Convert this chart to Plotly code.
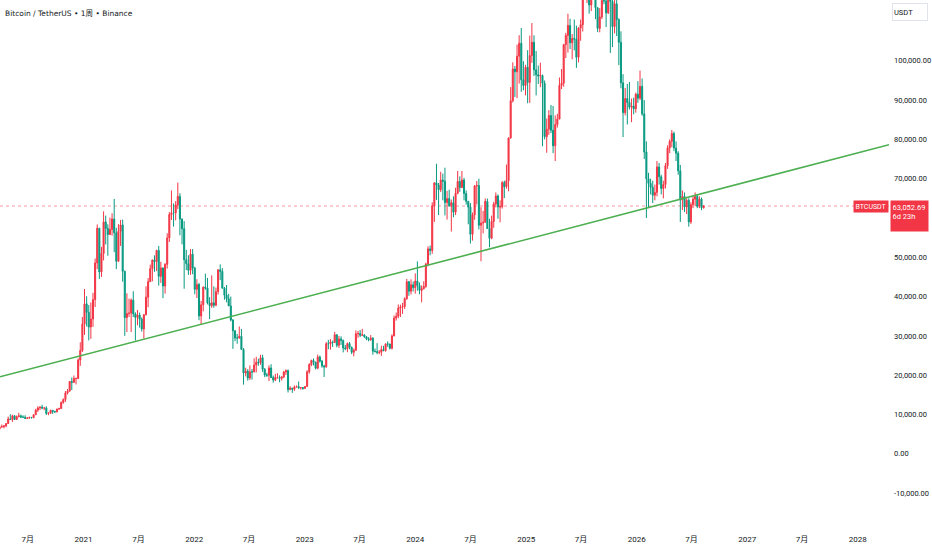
import pandas as pd
import plotly.graph_objects as go

# ---------------- data (weekly candles, values in thousands of USDT) ----------------
week_start = "2020-03-30"
first_open_k = 6.41

close_2020 = [6.77, 6.91, 7.12, 7.70, 8.87, 8.72, 9.68, 8.72, 9.45, 9.66, 9.34, 9.29, 9.01, 9.07,
              9.23, 9.16, 9.93, 11.10, 11.68, 11.85, 11.65, 11.68, 10.25, 10.32, 11.08, 10.77, 10.67,
              11.38, 11.50, 13.03, 13.79, 15.48, 15.96, 18.40, 18.18, 19.15, 19.15, 23.85, 26.28, 33.00]
high_2020 = [7.20, 7.47, 7.30, 7.77, 9.46, 10.07, 9.95, 9.84, 9.75, 10.43, 9.99, 9.79, 9.80, 9.34,
             9.47, 9.40, 10.00, 11.45, 12.10, 12.08, 12.47, 11.77, 12.09, 10.60, 11.18, 11.08, 10.96,
             11.49, 11.72, 13.35, 14.10, 15.97, 16.48, 18.48, 19.42, 19.92, 19.42, 24.30, 28.40, 34.80]
low_2020 = [6.15, 6.76, 6.47, 6.75, 7.65, 8.70, 8.10, 8.70, 8.63, 9.27, 9.08, 9.20, 8.83, 8.90,
            9.05, 9.05, 9.14, 9.90, 10.65, 11.12, 11.35, 11.10, 9.88, 9.82, 10.20, 10.14, 10.37,
            10.53, 11.20, 11.42, 12.75, 13.20, 15.08, 15.80, 16.20, 18.00, 17.65, 19.00, 22.38, 25.90]

close_2021 = [38.15, 36.00, 32.25, 34.30, 39.25, 48.58, 57.40, 46.27, 50.97, 59.00, 57.35, 55.80, 57.10,
              59.75, 56.25, 49.00, 56.60, 58.23, 46.43, 34.65, 35.68, 35.80, 39.10, 35.60, 34.70, 35.30,
              34.24, 31.78, 35.40, 39.86, 43.80, 47.10, 49.32, 48.90, 51.75, 45.16, 47.30, 42.70, 48.20,
              54.94, 60.86, 61.31, 61.30, 63.27, 65.50, 59.72, 57.27, 49.40, 48.38, 46.68, 50.78, 47.29]
high_2021 = [41.95, 40.10, 37.85, 38.50, 40.95, 49.70, 58.35, 57.50, 52.65, 61.70, 60.60, 58.40, 60.10,
             61.20, 64.85, 57.50, 58.45, 59.50, 59.60, 46.60, 40.84, 39.48, 39.50, 41.35, 36.00, 36.60,
             35.95, 34.70, 35.50, 42.60, 44.70, 48.15, 49.40, 50.50, 51.90, 52.90, 48.85, 47.40, 48.50,
             56.10, 61.50, 67.00, 63.70, 64.30, 69.00, 66.30, 59.90, 59.20, 51.90, 50.50, 52.10, 52.10]
low_2021 = [30.26, 32.40, 28.85, 29.24, 32.30, 37.35, 47.00, 44.50, 45.00, 49.20, 53.27, 50.40, 55.70,
            55.50, 51.30, 47.00, 48.80, 52.90, 43.80, 30.00, 31.00, 34.80, 31.00, 34.80, 28.80, 32.70,
            32.10, 31.10, 29.30, 35.20, 37.30, 43.70, 43.90, 46.30, 46.50, 42.80, 43.50, 39.60, 40.75,
            47.15, 53.90, 59.50, 57.80, 59.40, 62.30, 55.60, 53.30, 42.00, 46.75, 45.50, 45.55, 45.70]

close_2022 = [41.86, 43.08, 35.07, 37.92, 42.40, 42.20, 38.36, 37.70, 38.42, 37.80, 41.26, 46.82, 46.40,
              42.15, 40.38, 39.45, 37.63, 34.06, 31.30, 29.45, 29.45, 29.90, 26.57, 20.55, 21.03, 19.30,
              20.85, 20.83, 22.58, 23.30, 23.17, 24.44, 21.52, 20.04, 19.99, 21.83, 19.40, 18.80, 19.42,
              19.42, 19.20, 19.57, 20.81, 21.15, 16.33, 16.70, 16.45, 16.98, 17.10, 16.78, 16.84, 16.62]
high_2022 = [47.57, 44.40, 43.50, 38.90, 42.60, 45.85, 44.75, 39.85, 45.40, 42.60, 42.30, 46.90, 48.20,
             47.25, 42.45, 42.95, 40.70, 40.00, 34.25, 31.40, 30.50, 32.40, 31.75, 26.90, 21.90, 21.55,
             22.50, 21.60, 24.30, 24.70, 24.20, 25.20, 25.20, 21.80, 20.60, 22.50, 22.80, 19.90, 20.35,
             20.50, 19.95, 19.70, 21.10, 21.50, 21.45, 17.20, 16.80, 17.40, 17.40, 18.40, 16.95, 16.95]
low_2022 = [40.60, 39.65, 34.00, 32.90, 36.25, 41.75, 38.00, 34.30, 37.15, 37.15, 37.55, 40.50, 44.20,
            42.10, 39.20, 38.55, 37.60, 33.70, 26.70, 28.65, 28.00, 29.30, 26.55, 17.60, 19.70, 18.60,
            18.80, 18.90, 20.75, 20.70, 22.40, 22.65, 20.80, 19.50, 19.55, 18.50, 19.30, 18.10, 18.50,
            19.10, 18.20, 18.65, 19.25, 20.05, 15.60, 16.20, 15.50, 16.00, 16.90, 16.50, 16.35, 16.30]

close_2023 = [17.13, 20.88, 22.71, 23.74, 23.33, 21.78, 24.63, 23.56, 22.33, 22.13, 28.00, 27.99, 28.46,
              28.33, 30.30, 27.59, 29.23, 28.85, 26.92, 26.75, 28.07, 27.10, 25.84, 26.34, 30.54, 30.59,
              30.16, 30.24, 29.78, 29.23, 29.05, 29.41, 26.10, 26.01, 25.80, 25.84, 26.53, 26.25, 27.97,
              27.93, 26.85, 29.99, 34.53, 35.01, 37.06, 37.36, 37.45, 39.46, 43.79, 41.37, 43.00, 42.28]
high_2023 = [17.18, 21.25, 23.05, 23.95, 24.25, 23.40, 25.25, 25.00, 23.90, 22.65, 28.45, 29.00, 29.20,
             28.80, 31.00, 30.40, 30.00, 29.90, 29.05, 27.70, 28.30, 28.45, 27.30, 26.80, 31.40, 31.28,
             31.50, 31.80, 30.45, 29.90, 29.70, 30.20, 29.70, 26.80, 28.15, 26.40, 27.50, 27.48, 28.05,
             28.60, 28.00, 30.40, 35.20, 35.95, 38.00, 37.95, 38.40, 39.80, 44.50, 44.00, 44.40, 43.85]
low_2023 = [16.60, 17.10, 20.40, 22.30, 22.50, 21.45, 21.50, 23.20, 21.90, 19.55, 21.90, 26.60, 26.50,
            27.20, 28.17, 27.10, 26.95, 27.70, 25.80, 26.35, 25.85, 26.60, 25.35, 24.80, 26.25, 29.50,
            29.70, 29.95, 29.50, 28.90, 28.60, 28.75, 25.20, 25.80, 25.30, 25.35, 24.90, 26.10, 26.00,
            27.20, 26.55, 26.55, 29.90, 33.90, 34.50, 34.80, 35.60, 36.85, 39.20, 40.20, 40.55, 41.30]

close_2024 = [43.95, 42.85, 41.58, 42.03, 42.60, 48.30, 52.14, 51.73, 63.11, 68.96, 68.39, 67.21, 69.65,
              69.36, 63.92, 64.94, 63.12, 63.90, 61.48, 66.27, 69.29, 67.76, 69.65, 66.22, 64.25, 62.77,
              55.86, 60.80, 68.16, 68.25, 58.16, 58.71, 58.93, 64.22, 57.30, 54.84, 59.13, 63.58, 65.60,
              62.82, 62.85, 69.00, 67.97, 69.50, 80.37, 89.85, 97.90, 97.20, 101.17, 104.46, 95.18, 93.72,
              98.36]
high_2024 = [45.90, 48.95, 43.60, 42.85, 43.90, 48.60, 52.80, 52.98, 64.00, 69.00, 73.80, 68.90, 71.75,
             71.30, 72.80, 66.90, 67.20, 64.70, 65.50, 67.70, 71.95, 70.60, 71.95, 70.20, 67.00, 64.30,
             63.80, 61.40, 68.40, 69.40, 70.00, 62.75, 61.80, 65.00, 64.95, 59.80, 60.60, 64.10, 66.50,
             66.00, 64.50, 69.40, 69.50, 73.60, 80.50, 93.30, 99.60, 98.70, 104.10, 106.50, 108.35, 99.90,
             98.98]
low_2024 = [40.75, 41.50, 40.60, 38.55, 41.80, 42.25, 47.70, 50.50, 50.90, 59.00, 64.60, 60.75, 66.60,
            64.50, 60.65, 59.60, 62.80, 56.55, 60.20, 60.75, 66.05, 66.65, 67.60, 64.50, 63.40, 58.40,
            53.50, 54.25, 59.55, 63.45, 57.10, 49.00, 56.10, 58.80, 57.20, 52.55, 54.60, 57.50, 62.70,
            59.80, 58.90, 62.40, 65.05, 67.45, 66.80, 80.20, 89.40, 90.80, 90.50, 94.20, 92.10, 92.50,
            91.20]

close_2025 = [94.50, 101.33, 104.71, 97.70, 96.46, 96.12, 96.26, 94.27, 80.70, 82.60, 86.08, 82.33, 78.37,
              83.76, 85.17, 93.75, 94.30, 104.10, 106.45, 109.00, 104.60, 105.70, 105.50, 100.90, 108.35,
              109.20, 119.10, 117.30, 119.45, 114.20, 119.30, 117.40, 113.50, 108.25, 111.15, 115.35,
              115.25, 112.20, 123.50, 115.10, 108.70, 114.50, 110.50, 104.70, 94.40, 86.80, 90.40, 89.40,
              88.20, 88.50, 87.80, 91.50]
high_2025 = [102.70, 106.40, 109.60, 106.50, 102.50, 98.80, 99.50, 96.50, 95.00, 85.30, 87.45, 88.75, 88.50,
             86.10, 86.50, 95.75, 97.90, 104.30, 107.10, 111.98, 110.70, 106.80, 110.50, 108.95, 108.50,
             110.50, 119.50, 123.20, 120.25, 119.80, 119.70, 124.45, 117.60, 113.60, 113.40, 116.75,
             117.90, 115.40, 125.70, 126.20, 115.95, 115.50, 116.40, 110.80, 107.50, 96.60, 93.10, 94.10,
             94.60, 90.40, 90.60, 91.90]
low_2025 = [89.20, 89.30, 99.50, 96.15, 91.20, 94.10, 93.30, 78.25, 80.00, 76.60, 81.15, 81.60, 76.50,
            74.50, 83.00, 85.15, 92.80, 93.40, 100.70, 102.10, 103.00, 100.40, 102.65, 98.20, 99.60,
            105.10, 107.45, 115.70, 114.70, 112.00, 112.65, 116.80, 110.60, 107.30, 107.25, 110.60,
            114.40, 108.60, 111.90, 102.00, 103.50, 106.95, 106.30, 98.90, 93.00, 80.60, 86.10, 83.80,
            87.60, 84.40, 86.40, 86.80]

close_2026 = [90.50, 93.50, 86.50, 76.80, 70.00, 68.80, 67.80, 65.80, 66.50, 73.00, 70.50, 67.50, 68.50,
              73.30, 77.80, 79.50, 81.50, 77.80, 76.50, 72.00, 64.60, 65.50, 62.80, 64.50, 59.00, 63.40,
              64.80, 65.50, 63.00, 64.80, 62.60, 63.05269]
high_2026 = [94.80, 97.50, 95.50, 90.00, 79.50, 71.50, 70.00, 69.50, 68.50, 74.50, 74.00, 71.00, 69.50,
             74.00, 78.50, 80.00, 82.40, 82.00, 79.50, 77.00, 73.50, 67.00, 66.50, 65.00, 65.00, 64.00,
             65.50, 66.50, 66.00, 65.50, 65.20, 63.30]
low_2026 = [89.30, 90.00, 86.00, 75.00, 60.00, 62.50, 66.00, 63.80, 64.50, 65.50, 68.50, 66.00, 65.00,
            67.50, 72.50, 76.50, 78.00, 77.00, 74.50, 71.00, 59.00, 62.00, 61.50, 61.00, 57.80, 58.50,
            62.50, 63.00, 62.50, 62.50, 62.00, 62.40]

# trend line drawn on the chart (two anchor points)
trend_dates = ["2020-03-31", "2028-04-13"]
trend_values = [19590, 78630]

symbol = "BTCUSDT"
last_price = 63052.69
countdown = "6d 23h"
title_text = "Bitcoin / TetherUS • 1周 • Binance"
currency = "USDT"

x_range = ["2020-03-31", "2028-04-13"]
y_range = [-18626, 115470]

xtick_vals = ["2020-07-01", "2021-01-01", "2021-07-01", "2022-01-01", "2022-07-01", "2023-01-01",
              "2023-07-01", "2024-01-01", "2024-07-01", "2025-01-01", "2025-07-01", "2026-01-01",
              "2026-07-01", "2027-01-01", "2027-07-01", "2028-01-01"]
xtick_text = ["7月", "2021", "7月", "2022", "7月", "2023", "7月", "2024", "7月", "2025", "7月", "2026",
              "7月", "2027", "7月", "2028"]
ytick_vals = [-10000, 0, 10000, 20000, 30000, 40000, 50000, 70000, 80000, 90000, 100000]
ytick_text = ["-10,000.00", "0.00", "10,000.00", "20,000.00", "30,000.00", "40,000.00", "50,000.00",
              "70,000.00", "80,000.00", "90,000.00", "100,000.00"]

# ---------------- assemble ----------------
close_k = close_2020 + close_2021 + close_2022 + close_2023 + close_2024 + close_2025 + close_2026
high_k = high_2020 + high_2021 + high_2022 + high_2023 + high_2024 + high_2025 + high_2026
low_k = low_2020 + low_2021 + low_2022 + low_2023 + low_2024 + low_2025 + low_2026
open_k = [first_open_k] + close_k[:-1]

dates = pd.date_range(week_start, periods=len(close_k), freq="7D")
opens = [v * 1000 for v in open_k]
closes = [v * 1000 for v in close_k]
highs = [max(h * 1000, o, c) for h, o, c in zip(high_k, opens, closes)]
lows = [min(l * 1000, o, c) for l, o, c in zip(low_k, opens, closes)]

UP = "#F23645"
DOWN = "#089981"
TEXT = "#131722"
FONT = "Roboto, Noto Sans CJK SC, sans-serif"

fig = go.Figure()
fig.add_trace(go.Candlestick(
    x=dates, open=opens, high=highs, low=lows, close=closes,
    increasing=dict(line=dict(color=UP, width=1), fillcolor=UP),
    decreasing=dict(line=dict(color=DOWN, width=1), fillcolor=DOWN),
    whiskerwidth=0, hoverinfo="skip", name=symbol,
))
fig.add_trace(go.Scatter(
    x=trend_dates, y=trend_values, mode="lines",
    line=dict(color="#4CAF50", width=1.6), hoverinfo="skip",
))

fig.add_shape(type="line", xref="paper", x0=0, x1=1, yref="y", y0=last_price, y1=last_price,
              line=dict(color=UP, width=1, dash="dot"), opacity=0.5, layer="below")

fig.add_annotation(text=title_text, xref="paper", x=0, xanchor="left", xshift=3,
                   yref="paper", y=1, yanchor="middle", yshift=-13, showarrow=False,
                   font=dict(family="DejaVu Sans, Noto Sans CJK SC", size=7.5, color=TEXT))
fig.add_annotation(text=symbol, xref="paper", x=1, xanchor="right", xshift=0,
                   yref="y", y=last_price, yanchor="middle", showarrow=False,
                   bgcolor=UP, borderpad=1.5, font=dict(family=FONT, size=7, color="white"))
fig.add_annotation(text=f"{last_price:,.2f}<br>{countdown}", xref="paper", x=1, xanchor="left", xshift=1,
                   yref="y", y=last_price, yanchor="top", yshift=6.5, showarrow=False, align="left",
                   valign="top", width=34, height=27, bgcolor=UP, borderpad=1.5,
                   font=dict(family=FONT, size=7.5, color="white"))
fig.add_annotation(text=currency, xref="paper", x=1, xanchor="left", xshift=3,
                   yref="paper", y=1, yanchor="top", yshift=-3, showarrow=False, align="left",
                   width=32, height=14, bgcolor="white", bordercolor="#E0E3EB", borderwidth=1,
                   font=dict(family=FONT, size=7.5, color=TEXT))

fig.update_layout(
    width=932, height=550,
    margin=dict(l=0, r=43, t=0, b=23),
    paper_bgcolor="white", plot_bgcolor="white",
    showlegend=False, hovermode=False,
    xaxis=dict(type="date", range=x_range, rangeslider=dict(visible=False),
               showgrid=False, zeroline=False, showline=False, ticks="",
               tickmode="array", tickvals=xtick_vals, ticktext=xtick_text,
               tickfont=dict(family=FONT, size=8, color=TEXT), ticklabelstandoff=6),
    yaxis=dict(side="right", range=y_range, showgrid=False, zeroline=False, showline=False,
               ticks="", tickmode="array", tickvals=ytick_vals, ticktext=ytick_text,
               tickfont=dict(family=FONT, size=7.5, color=TEXT), ticklabelstandoff=4),
)

fig.write_html("out.html", config={"displayModeBar": False})
with open("out.html", "r", encoding="utf-8") as f:
    html = f.read()
html = html.replace("<body>", '<body style="margin:0;overflow:hidden">', 1)
with open("out.html", "w", encoding="utf-8") as f:
    f.write(html)
